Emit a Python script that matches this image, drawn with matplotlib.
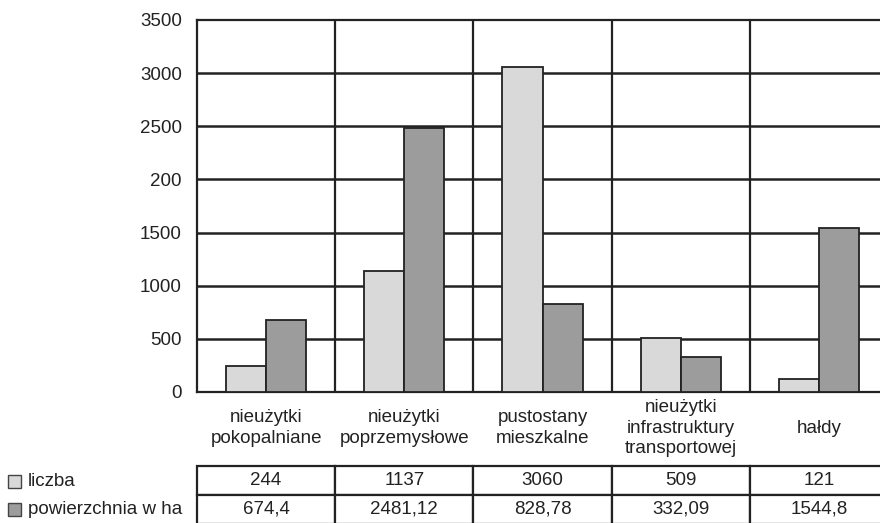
import matplotlib
matplotlib.use('Agg')
import matplotlib.pyplot as plt
import numpy as np

plt.rcParams['font.family'] = ['Liberation Sans', 'DejaVu Sans']
plt.rcParams['font.size'] = 13.5

# dane
kategorie = ['nieużytki\npokopalniane', 'nieużytki\npoprzemysłowe', 'pustostany\nmieszkalne',
             'nieużytki\ninfrastruktury\ntransportowej', 'hałdy']
liczba = [244, 1137, 3060, 509, 121]
powierzchnia = [674.4, 2481.12, 828.78, 332.09, 1544.8]
liczba_txt = ['244', '1137', '3060', '509', '121']
powierzchnia_txt = ['674,4', '2481,12', '828,78', '332,09', '1544,8']
serie = ['liczba', 'powierzchnia w ha']
y_ticks = [0, 500, 1000, 1500, 2000, 2500, 3000, 3500]
y_labels = ['0', '500', '1000', '1500', '200', '2500', '3000', '3500']

KOLORY = ['#d9d9d9', '#9c9c9c']
EDGE = '#222222'
TXT = '#222222'

W, H = 880, 523
fig = plt.figure(figsize=(W / 100, H / 100), dpi=100)
ax = fig.add_axes([197 / W, (H - 392) / H, (888 - 197) / W, (392 - 20) / H])

x = np.arange(len(kategorie))
bw = 0.29
ax.bar(x - bw / 2, liczba, bw, color=KOLORY[0], edgecolor=EDGE, linewidth=1.3, zorder=3)
ax.bar(x + bw / 2, powierzchnia, bw, color=KOLORY[1], edgecolor=EDGE, linewidth=1.3, zorder=3)

ax.set_xlim(-0.5, len(kategorie) - 0.5)
ax.set_ylim(0, 3500)
ax.set_yticks(y_ticks)
ax.set_yticklabels(y_labels, color=TXT)
ax.tick_params(axis='y', length=0, pad=11)
ax.set_xticks([])

for yv in y_ticks[1:-1]:
    ax.axhline(yv, color=EDGE, linewidth=1.8, zorder=1)
for xv in np.arange(0.5, len(kategorie) - 0.5, 1):
    ax.axvline(xv, color=EDGE, linewidth=1.6, zorder=1)
for s in ax.spines.values():
    s.set_color(EDGE)
    s.set_linewidth(1.6)

# etykiety kategorii
for i, k in enumerate(kategorie):
    ax.text(i, -0.097, k, transform=ax.get_xaxis_transform(), ha='center', va='center',
            linespacing=1.3, color=TXT)

# tabela danych
tab = ax.table(cellText=[liczba_txt, powierzchnia_txt], cellLoc='center',
               bbox=[0, -(524 - 392) / 372, 1, (524 - 466) / 372])
tab.auto_set_font_size(False)
tab.set_fontsize(13.5)
for (r, c), cell in tab.get_celld().items():
    cell.set_edgecolor(EDGE)
    cell.set_linewidth(1.6)
    cell.get_text().set_color(TXT)

# legenda przy wierszach
for j, (nazwa, kol) in enumerate(zip(serie, KOLORY)):
    yc = 1 - (481 + 28 * j) / H
    fig.patches.append(plt.Rectangle((8 / W, yc - 6.5 / H), 13 / W, 13 / H, transform=fig.transFigure,
                                     facecolor=kol, edgecolor='#444444', linewidth=1.0))
    fig.text(28 / W, yc, nazwa, ha='left', va='center', color=TXT)

fig.savefig('out.png', dpi=100)
